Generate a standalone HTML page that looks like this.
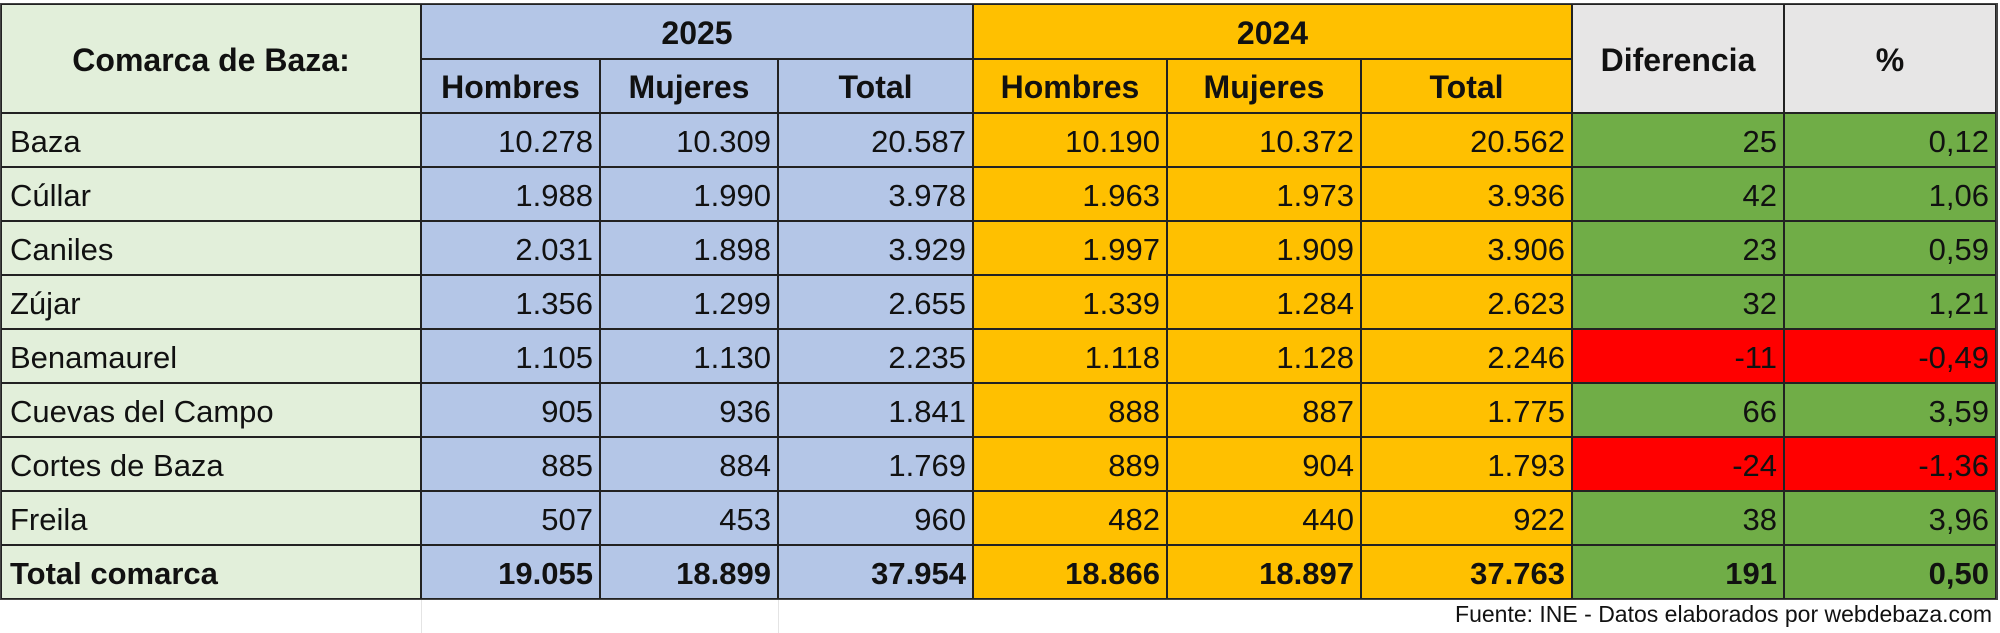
<!DOCTYPE html>
<html><head><meta charset="utf-8"><style>
body{margin:0;width:2000px;height:633px;background:#fff;overflow:hidden;position:relative;font-family:"Liberation Sans",sans-serif;}
.c{position:absolute;box-sizing:border-box;border:1.5px solid #222;display:flex;align-items:center;font-size:31px;color:#111;white-space:nowrap;padding-top:3px}
.r{justify-content:flex-end;padding-right:6px}
.l{justify-content:flex-start;padding-left:8px}
.m{justify-content:center;font-weight:bold;font-size:32px}
.b{font-weight:bold}
.g{background:#E2EFDA}.u{background:#B4C6E7}.o{background:#FFC000}.v{background:#70AD47}.x{background:#FF0000}.h{background:#E7E6E6}
</style></head><body>
<div style="position:absolute;left:0;top:3px;width:1998px;height:597px;border:2px solid #444;box-sizing:border-box"></div>
<div class="c g m" style="left:1px;top:4px;width:420px;height:109px">Comarca de Baza:</div>
<div class="c u m" style="left:421px;top:4px;width:552px;height:55px">2025</div>
<div class="c o m" style="left:973px;top:4px;width:599px;height:55px">2024</div>
<div class="c h m" style="left:1572px;top:4px;width:212px;height:109px">Diferencia</div>
<div class="c h m" style="left:1784px;top:4px;width:212px;height:109px">%</div>
<div class="c u m" style="left:421px;top:59px;width:179px;height:54px">Hombres</div>
<div class="c u m" style="left:600px;top:59px;width:178px;height:54px">Mujeres</div>
<div class="c u m" style="left:778px;top:59px;width:195px;height:54px">Total</div>
<div class="c o m" style="left:973px;top:59px;width:194px;height:54px">Hombres</div>
<div class="c o m" style="left:1167px;top:59px;width:194px;height:54px">Mujeres</div>
<div class="c o m" style="left:1361px;top:59px;width:211px;height:54px">Total</div>

<div style="position:absolute;left:0;top:113px">
<div style="position:relative;height:54px">
<div class="c g l" style="left:1px;width:420px;height:54px">Baza</div>
<div class="c u r" style="left:421px;width:179px;height:54px">10.278</div>
<div class="c u r" style="left:600px;width:178px;height:54px">10.309</div>
<div class="c u r" style="left:778px;width:195px;height:54px">20.587</div>
<div class="c o r" style="left:973px;width:194px;height:54px">10.190</div>
<div class="c o r" style="left:1167px;width:194px;height:54px">10.372</div>
<div class="c o r" style="left:1361px;width:211px;height:54px">20.562</div>
<div class="c v r" style="left:1572px;width:212px;height:54px">25</div>
<div class="c v r" style="left:1784px;width:212px;height:54px">0,12</div>
</div>
<div style="position:relative;height:54px">
<div class="c g l" style="left:1px;width:420px;height:54px">Cúllar</div>
<div class="c u r" style="left:421px;width:179px;height:54px">1.988</div>
<div class="c u r" style="left:600px;width:178px;height:54px">1.990</div>
<div class="c u r" style="left:778px;width:195px;height:54px">3.978</div>
<div class="c o r" style="left:973px;width:194px;height:54px">1.963</div>
<div class="c o r" style="left:1167px;width:194px;height:54px">1.973</div>
<div class="c o r" style="left:1361px;width:211px;height:54px">3.936</div>
<div class="c v r" style="left:1572px;width:212px;height:54px">42</div>
<div class="c v r" style="left:1784px;width:212px;height:54px">1,06</div>
</div>
<div style="position:relative;height:54px">
<div class="c g l" style="left:1px;width:420px;height:54px">Caniles</div>
<div class="c u r" style="left:421px;width:179px;height:54px">2.031</div>
<div class="c u r" style="left:600px;width:178px;height:54px">1.898</div>
<div class="c u r" style="left:778px;width:195px;height:54px">3.929</div>
<div class="c o r" style="left:973px;width:194px;height:54px">1.997</div>
<div class="c o r" style="left:1167px;width:194px;height:54px">1.909</div>
<div class="c o r" style="left:1361px;width:211px;height:54px">3.906</div>
<div class="c v r" style="left:1572px;width:212px;height:54px">23</div>
<div class="c v r" style="left:1784px;width:212px;height:54px">0,59</div>
</div>
<div style="position:relative;height:54px">
<div class="c g l" style="left:1px;width:420px;height:54px">Zújar</div>
<div class="c u r" style="left:421px;width:179px;height:54px">1.356</div>
<div class="c u r" style="left:600px;width:178px;height:54px">1.299</div>
<div class="c u r" style="left:778px;width:195px;height:54px">2.655</div>
<div class="c o r" style="left:973px;width:194px;height:54px">1.339</div>
<div class="c o r" style="left:1167px;width:194px;height:54px">1.284</div>
<div class="c o r" style="left:1361px;width:211px;height:54px">2.623</div>
<div class="c v r" style="left:1572px;width:212px;height:54px">32</div>
<div class="c v r" style="left:1784px;width:212px;height:54px">1,21</div>
</div>
<div style="position:relative;height:54px">
<div class="c g l" style="left:1px;width:420px;height:54px">Benamaurel</div>
<div class="c u r" style="left:421px;width:179px;height:54px">1.105</div>
<div class="c u r" style="left:600px;width:178px;height:54px">1.130</div>
<div class="c u r" style="left:778px;width:195px;height:54px">2.235</div>
<div class="c o r" style="left:973px;width:194px;height:54px">1.118</div>
<div class="c o r" style="left:1167px;width:194px;height:54px">1.128</div>
<div class="c o r" style="left:1361px;width:211px;height:54px">2.246</div>
<div class="c x r" style="left:1572px;width:212px;height:54px">-11</div>
<div class="c x r" style="left:1784px;width:212px;height:54px">-0,49</div>
</div>
<div style="position:relative;height:54px">
<div class="c g l" style="left:1px;width:420px;height:54px">Cuevas del Campo</div>
<div class="c u r" style="left:421px;width:179px;height:54px">905</div>
<div class="c u r" style="left:600px;width:178px;height:54px">936</div>
<div class="c u r" style="left:778px;width:195px;height:54px">1.841</div>
<div class="c o r" style="left:973px;width:194px;height:54px">888</div>
<div class="c o r" style="left:1167px;width:194px;height:54px">887</div>
<div class="c o r" style="left:1361px;width:211px;height:54px">1.775</div>
<div class="c v r" style="left:1572px;width:212px;height:54px">66</div>
<div class="c v r" style="left:1784px;width:212px;height:54px">3,59</div>
</div>
<div style="position:relative;height:54px">
<div class="c g l" style="left:1px;width:420px;height:54px">Cortes de Baza</div>
<div class="c u r" style="left:421px;width:179px;height:54px">885</div>
<div class="c u r" style="left:600px;width:178px;height:54px">884</div>
<div class="c u r" style="left:778px;width:195px;height:54px">1.769</div>
<div class="c o r" style="left:973px;width:194px;height:54px">889</div>
<div class="c o r" style="left:1167px;width:194px;height:54px">904</div>
<div class="c o r" style="left:1361px;width:211px;height:54px">1.793</div>
<div class="c x r" style="left:1572px;width:212px;height:54px">-24</div>
<div class="c x r" style="left:1784px;width:212px;height:54px">-1,36</div>
</div>
<div style="position:relative;height:54px">
<div class="c g l" style="left:1px;width:420px;height:54px">Freila</div>
<div class="c u r" style="left:421px;width:179px;height:54px">507</div>
<div class="c u r" style="left:600px;width:178px;height:54px">453</div>
<div class="c u r" style="left:778px;width:195px;height:54px">960</div>
<div class="c o r" style="left:973px;width:194px;height:54px">482</div>
<div class="c o r" style="left:1167px;width:194px;height:54px">440</div>
<div class="c o r" style="left:1361px;width:211px;height:54px">922</div>
<div class="c v r" style="left:1572px;width:212px;height:54px">38</div>
<div class="c v r" style="left:1784px;width:212px;height:54px">3,96</div>
</div>
<div style="position:relative;height:54px">
<div class="c g l b" style="left:1px;width:420px;height:54px">Total comarca</div>
<div class="c u r b" style="left:421px;width:179px;height:54px">19.055</div>
<div class="c u r b" style="left:600px;width:178px;height:54px">18.899</div>
<div class="c u r b" style="left:778px;width:195px;height:54px">37.954</div>
<div class="c o r b" style="left:973px;width:194px;height:54px">18.866</div>
<div class="c o r b" style="left:1167px;width:194px;height:54px">18.897</div>
<div class="c o r b" style="left:1361px;width:211px;height:54px">37.763</div>
<div class="c v r b" style="left:1572px;width:212px;height:54px">191</div>
<div class="c v r b" style="left:1784px;width:212px;height:54px">0,50</div>
</div>
</div>
<div style="position:absolute;left:421px;top:600px;width:1px;height:33px;background:#e4e4e4"></div>
<div style="position:absolute;left:778px;top:600px;width:1px;height:33px;background:#e4e4e4"></div>
<div style="position:absolute;right:8px;top:601px;font-size:23px;color:#111;white-space:nowrap">Fuente: INE - Datos elaborados por webdebaza.com</div>
</body></html>
